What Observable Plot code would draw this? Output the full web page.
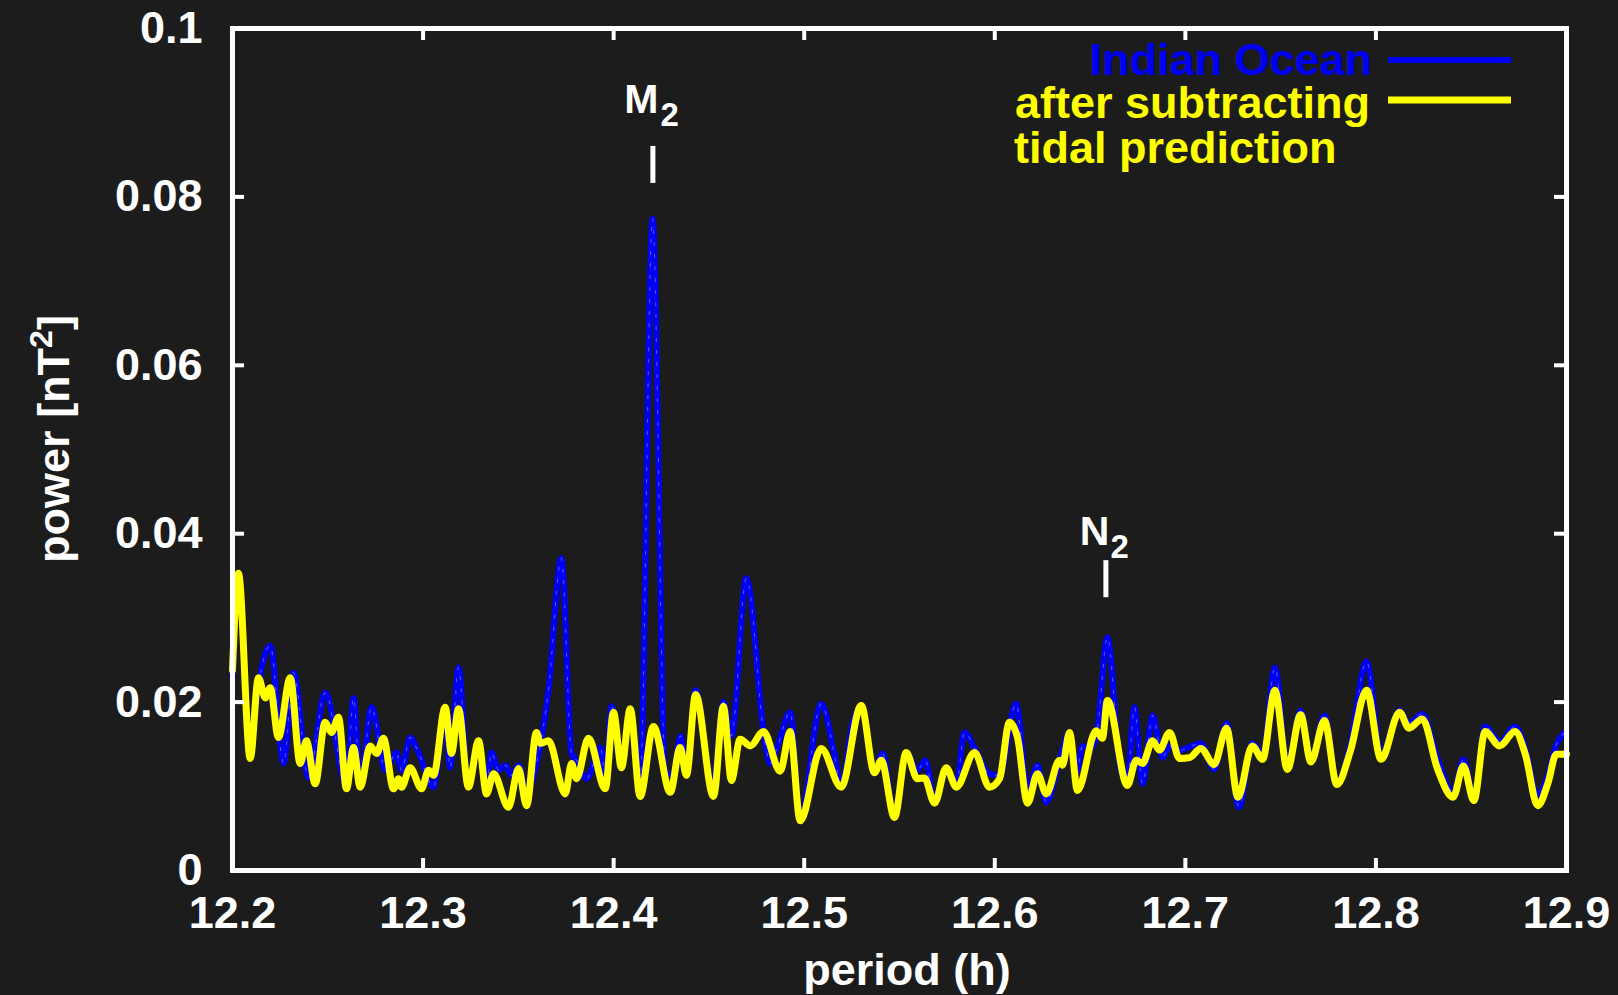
<!DOCTYPE html>
<html><head><meta charset="utf-8">
<script src="https://cdn.jsdelivr.net/npm/d3@7"></script>
<script src="https://cdn.jsdelivr.net/npm/@observablehq/plot@0.6"></script>
<style>html,body{margin:0;padding:0;background:#1c1c1c;overflow:hidden;}</style>
</head><body><div id="chart"></div>
<script>
// ---- data ----
const xTicks = [12.2, 12.3, 12.4, 12.5, 12.6, 12.7, 12.8, 12.9];
const yTicks = [0, 0.02, 0.04, 0.06, 0.08, 0.1];

const indianPeriod = [12.2000,12.2031,12.2093,12.2126,12.2198,12.2268,12.2320,12.2399,12.2486,12.2598,12.2635,12.2672,12.2729,12.2803,12.2861,12.2887,12.2932,12.2976,12.3055,12.3116,12.3142,12.3186,12.3238,12.3291,12.3333,12.3359,12.3396,12.3433,12.3464,12.3501,12.3543,12.3606,12.3658,12.3726,12.3779,12.3805,12.3858,12.3931,12.3956,12.3989,12.4041,12.4087,12.4139,12.4204,12.4271,12.4309,12.4351,12.4382,12.4430,12.4498,12.4524,12.4576,12.4618,12.4696,12.4795,12.4821,12.4865,12.4926,12.4979,12.5089,12.5159,12.5194,12.5254,12.5299,12.5369,12.5411,12.5474,12.5535,12.5594,12.5636,12.5684,12.5745,12.5798,12.5841,12.5899,12.5972,12.6025,12.6112,12.6172,12.6224,12.6270,12.6340,12.6392,12.6429,12.6460,12.6502,12.6539,12.6591,12.6660,12.6696,12.6733,12.6775,12.6828,12.6880,12.6917,12.6969,12.7081,12.7151,12.7216,12.7281,12.7351,12.7405,12.7470,12.7535,12.7605,12.7659,12.7730,12.7795,12.7865,12.7951,12.8027,12.8124,12.8173,12.8243,12.8324,12.8405,12.8459,12.8514,12.8573,12.8649,12.8730,12.8784,12.8849,12.8903,12.8946,12.9000];
const indianPower = [0.0229,0.0350,0.0133,0.0202,0.0267,0.0127,0.0235,0.0110,0.0211,0.0101,0.0205,0.0101,0.0194,0.0119,0.0140,0.0119,0.0158,0.0140,0.0099,0.0188,0.0122,0.0241,0.0101,0.0148,0.0101,0.0140,0.0119,0.0125,0.0113,0.0125,0.0095,0.0139,0.0214,0.0371,0.0139,0.0131,0.0109,0.0146,0.0113,0.0195,0.0122,0.0192,0.0107,0.0774,0.0118,0.0113,0.0160,0.0119,0.0214,0.0118,0.0107,0.0200,0.0160,0.0347,0.0151,0.0127,0.0151,0.0188,0.0062,0.0198,0.0137,0.0099,0.0175,0.0194,0.0116,0.0139,0.0063,0.0140,0.0119,0.0131,0.0083,0.0122,0.0101,0.0164,0.0143,0.0115,0.0113,0.0198,0.0095,0.0125,0.0081,0.0131,0.0164,0.0116,0.0148,0.0145,0.0169,0.0277,0.0119,0.0107,0.0194,0.0103,0.0184,0.0134,0.0148,0.0143,0.0151,0.0120,0.0175,0.0075,0.0151,0.0138,0.0241,0.0126,0.0190,0.0132,0.0184,0.0104,0.0149,0.0248,0.0138,0.0190,0.0175,0.0186,0.0132,0.0093,0.0132,0.0087,0.0171,0.0153,0.0171,0.0145,0.0089,0.0114,0.0149,0.0165];

const residualPeriod = [12.2000,12.2031,12.2093,12.2136,12.2172,12.2198,12.2241,12.2303,12.2355,12.2388,12.2434,12.2486,12.2519,12.2556,12.2598,12.2635,12.2670,12.2723,12.2756,12.2792,12.2845,12.2871,12.2887,12.2932,12.2992,12.3029,12.3055,12.3116,12.3149,12.3186,12.3238,12.3291,12.3333,12.3370,12.3448,12.3501,12.3543,12.3595,12.3616,12.3658,12.3746,12.3779,12.3805,12.3868,12.3956,12.3999,12.4041,12.4087,12.4139,12.4209,12.4297,12.4349,12.4382,12.4430,12.4524,12.4576,12.4618,12.4664,12.4717,12.4786,12.4874,12.4926,12.4979,12.5089,12.5194,12.5299,12.5369,12.5404,12.5474,12.5535,12.5594,12.5631,12.5684,12.5745,12.5798,12.5894,12.5972,12.6025,12.6077,12.6119,12.6172,12.6224,12.6270,12.6340,12.6355,12.6392,12.6434,12.6532,12.6565,12.6591,12.6696,12.6742,12.6775,12.6828,12.6864,12.6917,12.6969,12.7022,12.7081,12.7151,12.7216,12.7276,12.7351,12.7405,12.7470,12.7535,12.7605,12.7659,12.7730,12.7795,12.7865,12.7951,12.8027,12.8124,12.8173,12.8243,12.8324,12.8405,12.8459,12.8514,12.8573,12.8649,12.8730,12.8784,12.8849,12.8903,12.8946,12.9000];
const residualPower = [0.0238,0.0353,0.0133,0.0229,0.0205,0.0217,0.0158,0.0229,0.0127,0.0154,0.0103,0.0176,0.0164,0.0182,0.0097,0.0146,0.0099,0.0148,0.0139,0.0157,0.0097,0.0109,0.0099,0.0122,0.0097,0.0119,0.0113,0.0194,0.0139,0.0192,0.0099,0.0154,0.0091,0.0115,0.0075,0.0121,0.0077,0.0164,0.0151,0.0154,0.0091,0.0127,0.0109,0.0157,0.0097,0.0188,0.0122,0.0192,0.0088,0.0171,0.0093,0.0146,0.0113,0.0209,0.0088,0.0195,0.0107,0.0156,0.0148,0.0165,0.0118,0.0165,0.0059,0.0145,0.0099,0.0196,0.0116,0.0131,0.0063,0.0140,0.0109,0.0110,0.0080,0.0122,0.0099,0.0140,0.0099,0.0109,0.0176,0.0158,0.0080,0.0115,0.0091,0.0131,0.0125,0.0164,0.0095,0.0166,0.0157,0.0202,0.0101,0.0131,0.0127,0.0154,0.0143,0.0164,0.0133,0.0134,0.0145,0.0126,0.0169,0.0087,0.0148,0.0132,0.0214,0.0120,0.0185,0.0129,0.0178,0.0102,0.0141,0.0214,0.0132,0.0188,0.0169,0.0180,0.0120,0.0087,0.0124,0.0083,0.0165,0.0148,0.0165,0.0138,0.0077,0.0104,0.0138,0.0138];

// tidal constituents marked on the chart
const tideNames = ["M", "N"];
const tidePeriods = [12.4206, 12.6583];
const tideMarkTop = [0.0860, 0.0368];
const tideMarkBottom = [0.0816, 0.0324];

const seriesNames = ["Indian Ocean", "after subtracting", "tidal prediction"];

// ---- build tables ----
const zip = (xs, ys) => xs.slice(0, Math.min(xs.length, ys.length)).map((p, i) => ({period: p, power: ys[i]}));
const indian = zip(indianPeriod, indianPower);
const residual = zip(residualPeriod, residualPower);
const tides = tideNames.map((n, i) => ({name: n, period: tidePeriods[i], top: tideMarkTop[i], bottom: tideMarkBottom[i]}));

const W = 1618, H = 995, mL = 232, mR = 52, mT = 28, mB = 125;
const pW = W - mL - mR, pH = H - mT - mB;
const BLUE = "#0000f2", YELLOW = "#ffff00", FONT = "'Liberation Sans', Arial, Helvetica, sans-serif";
const FS = 45;

const chart = Plot.plot({
  width: W, height: H,
  marginLeft: mL, marginRight: mR, marginTop: mT, marginBottom: mB,
  style: {background: "#1c1c1c", color: "white", fontFamily: FONT, fontWeight: "bold", fontSize: FS + "px", overflow: "visible"},
  x: {domain: [12.2, 12.9], axis: null},
  y: {domain: [0, 0.1], axis: null},
  marks: [
    Plot.line(indian, {x: "period", y: "power", stroke: BLUE, strokeWidth: 6, curve: "monotone-x", strokeLinejoin: "round"}),
    Plot.line(indian, {x: "period", y: "power", stroke: "#8c8ce6", strokeWidth: 1.2, strokeOpacity: 0.55, strokeDasharray: "3 9", curve: "monotone-x"}),
    Plot.line(residual, {x: "period", y: "power", stroke: YELLOW, strokeWidth: 7, curve: "monotone-x", strokeLinejoin: "round"}),
    Plot.frame({stroke: "white", strokeWidth: 5}),
    Plot.tickX(xTicks, {x: d => d, stroke: "white", strokeWidth: 4, insetTop: pH - 12}),
    Plot.tickX(xTicks, {x: d => d, stroke: "white", strokeWidth: 4, insetBottom: pH - 12}),
    Plot.tickY(yTicks, {y: d => d, stroke: "white", strokeWidth: 4, insetRight: pW - 12}),
    Plot.tickY(yTicks, {y: d => d, stroke: "white", strokeWidth: 4, insetLeft: pW - 12}),
    Plot.axisX({ticks: xTicks, label: null, tickSize: 0, tickPadding: 26, fill: "white", fontSize: FS, fontWeight: "bold", tickFormat: d3.format(".1f")}),
    Plot.axisY({ticks: yTicks, label: null, tickSize: 0, tickPadding: 30, fill: "white", fontSize: FS, fontWeight: "bold", tickFormat: d => String(+d.toFixed(2))}),
    Plot.ruleX(tides, {x: "period", y1: "bottom", y2: "top", stroke: "white", strokeWidth: 5})
  ]
});
const svg = d3.select(chart);
const xs = chart.scale("x"), ys = chart.scale("y");

// constituent labels with subscripts, placed from the data scales
const mOff = {M: {dx: 6, dy: -33, sdx: 8, sdy: -20}, N: {dx: 4, dy: -15, sdx: 5, sdy: -2}};
tides.forEach(t => {
  const px = xs.apply(t.period), py = ys.apply(t.top), o = mOff[t.name];
  svg.append("text").attr("x", px + o.dx).attr("y", py + o.dy).attr("text-anchor", "end")
    .attr("fill", "white").attr("font-size", 41).attr("font-weight", "bold").attr("font-family", FONT).text(t.name);
  svg.append("text").attr("x", px + o.sdx).attr("y", py + o.sdy).attr("text-anchor", "start")
    .attr("fill", "white").attr("font-size", 33).attr("font-weight", "bold").attr("font-family", FONT).text("2");
});

// axis titles
svg.append("text").attr("x", mL + pW / 2 + 8).attr("y", H - 10).attr("text-anchor", "middle")
  .attr("fill", "white").attr("font-size", FS).attr("font-weight", "bold").attr("font-family", FONT).text("period (h)");
const yt = svg.append("text").attr("transform", `translate(69,${mT + pH / 2 - 10}) rotate(-90)`).attr("text-anchor", "middle")
  .attr("fill", "white").attr("font-size", FS).attr("font-weight", "bold").attr("font-family", FONT);
yt.append("tspan").text("power [nT");
yt.append("tspan").attr("dy", -17).attr("font-size", 32).text("2");
yt.append("tspan").attr("dy", 17).text("]");

// legend
const lg = svg.append("g").attr("font-family", FONT).attr("font-weight", "bold").attr("font-size", FS);
lg.append("text").attr("x", 1372).attr("y", 75).attr("text-anchor", "end").attr("fill", BLUE).text(seriesNames[0]);
lg.append("line").attr("x1", 1388).attr("x2", 1511).attr("y1", 60).attr("y2", 60).attr("stroke", BLUE).attr("stroke-width", 6);
lg.append("text").attr("x", 1370).attr("y", 118).attr("text-anchor", "end").attr("fill", YELLOW).text(seriesNames[1]);
lg.append("line").attr("x1", 1388).attr("x2", 1511).attr("y1", 100).attr("y2", 100).attr("stroke", YELLOW).attr("stroke-width", 7);
lg.append("text").attr("x", 1014).attr("y", 163).attr("text-anchor", "start").attr("fill", YELLOW).text(seriesNames[2]);

document.getElementById("chart").appendChild(chart);
</script>
</body></html>
